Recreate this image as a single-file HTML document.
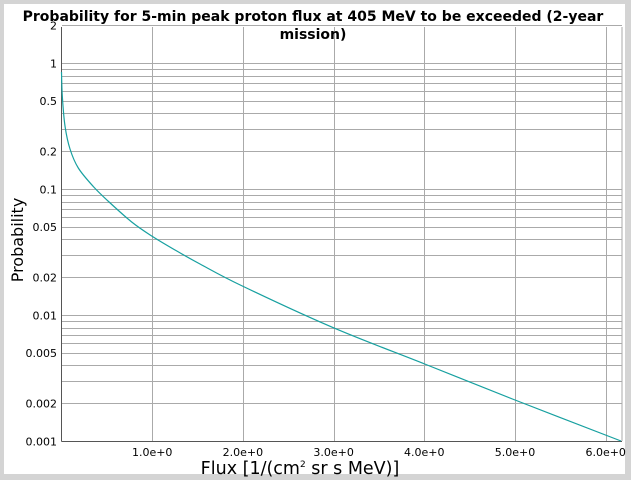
<!DOCTYPE html>
<html><head><style>
html,body{margin:0;padding:0;background:#d4d4d4;}
svg{display:block;font-family:"DejaVu Sans","Liberation Sans",sans-serif;}
</style></head><body>
<svg width="631" height="480" viewBox="0 0 631 480">
<rect x="0" y="0" width="631" height="480" fill="#d4d4d4"/>
<rect x="4" y="4" width="621" height="470" fill="#fff"/>
<g id="grid" stroke="#aaa" stroke-width="1"></g>
<text x="313" y="21" text-anchor="middle" font-weight="bold" font-size="14">Probability for 5-min peak proton flux at 405 MeV to be exceeded (2-year</text>
<text x="313" y="39" text-anchor="middle" font-weight="bold" font-size="14">mission)</text>
<g id="yl" font-size="11" text-anchor="end" fill="#000"></g>
<g id="xl" font-size="11" text-anchor="middle" fill="#000"></g>
<line x1="61.5" y1="27" x2="61.5" y2="441.5" stroke="#555"/>
<line x1="61.5" y1="441.5" x2="622" y2="441.5" stroke="#555"/>
<path id="curve" fill="none" stroke="#17a0a0" stroke-width="1.2" d=""/>
<text x="300" y="474" text-anchor="middle" font-size="17.5">Flux [1/(cm<tspan font-size="9" dy="-7">2</tspan><tspan dy="7"> sr s MeV)]</tspan></text>
<text transform="translate(23,240) rotate(-90)" text-anchor="middle" font-size="16">Probability</text>
</svg>
<script>
var g=document.getElementById('grid'),yl=document.getElementById('yl'),xl=document.getElementById('xl');
var NS='http://www.w3.org/2000/svg';
function Y(p){return 441.3-(Math.log10(p)+3)*126;}
function ln(x1,y1,x2,y2){var l=document.createElementNS(NS,'line');l.setAttribute('x1',x1);l.setAttribute('y1',y1);l.setAttribute('x2',x2);l.setAttribute('y2',y2);g.appendChild(l);}
for(var d=-3;d<=0;d++){for(var m=1;m<=9;m++){var p=m*Math.pow(10,d);if(p>2||p<=0.001)continue;var y=Math.round(Y(p))+0.5;ln(62,y,622,y);}}
for(var i=1;i<=6;i++){var x=Math.round(61.5+i*90.7)+0.5;ln(x,27,x,441);}
ln(622,27,622,441);
var labs=[[2,'2'],[1,'1'],[0.5,'0.5'],[0.2,'0.2'],[0.1,'0.1'],[0.05,'0.05'],[0.02,'0.02'],[0.01,'0.01'],[0.005,'0.005'],[0.002,'0.002'],[0.001,'0.001']];
labs.forEach(function(a){var t=document.createElementNS(NS,'text');t.setAttribute('x',57);t.setAttribute('y',Y(a[0])+4);t.textContent=a[1];yl.appendChild(t);});
for(var i=1;i<=6;i++){var t=document.createElementNS(NS,'text');t.setAttribute('x',61.5+i*90.7);t.setAttribute('y',456);t.textContent=i+'.0e+0';xl.appendChild(t);}
var P=[[61.5,72],[62.3,96],[65,126],[70,149],[78.3,168],[93.3,186.5],[108,201],[131.7,222],[151.7,236],[175,250],[200,264],[242.3,286],[333.3,327.7],[424.7,364],[515,400],[621,441]];
var d='M'+P[0][0]+','+P[0][1];
for(var i=0;i<P.length-1;i++){var p0=P[Math.max(0,i-1)],p1=P[i],p2=P[i+1],p3=P[Math.min(P.length-1,i+2)];
var c1x=p1[0]+(p2[0]-p0[0])/6,c1y=p1[1]+(p2[1]-p0[1])/6,c2x=p2[0]-(p3[0]-p1[0])/6,c2y=p2[1]-(p3[1]-p1[1])/6;
d+=' C'+c1x.toFixed(2)+','+c1y.toFixed(2)+' '+c2x.toFixed(2)+','+c2y.toFixed(2)+' '+p2[0]+','+p2[1];}
document.getElementById('curve').setAttribute('d',d);
</script>
</body></html>
